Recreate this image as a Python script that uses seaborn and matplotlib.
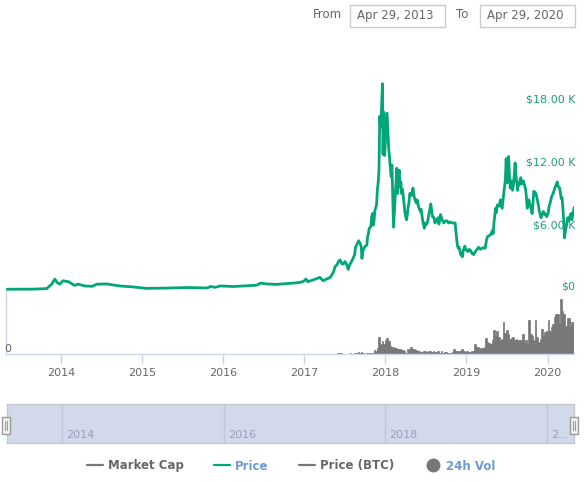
import numpy as np
import matplotlib
matplotlib.use("Agg")
import matplotlib.pyplot as plt
from matplotlib.lines import Line2D
from matplotlib.patches import Rectangle
from matplotlib.transforms import offset_copy, ScaledTranslation
import seaborn as sns

year_a = [2013.33,2013.65,2013.82,2013.88,2013.92,2013.95,2013.98,2014.02,2014.09,2014.16,2014.21,2014.29,2014.38,2014.44,2014.56,2014.72,2014.87,2015.05,2015.30,2015.55,2015.80,2015.84,2015.90,2015.96,2016.12,2016.41,2016.46,2016.54,2016.66,2016.86,2016.95,2016.99,2017.02,2017.04,2017.15,2017.19,2017.23]
price_a = [.12,.13,.18,.6,1.08,.75,.6,.92,.83,.49,.6,.43,.4,.6,.62,.43,.35,.2,.23,.28,.24,.38,.3,.43,.38,.5,.7,.62,.58,.7,.78,.87,1.09,.83,1.12,1.25,.93]
year_b = [2017.32,2017.34,2017.36,2017.38,2017.40,2017.42,2017.44,2017.46,2017.48,2017.50,2017.52,2017.54,2017.55,2017.57,2017.60,2017.62,2017.63,2017.65,2017.67,2017.69,2017.70,2017.71,2017.72,2017.73,2017.75,2017.77,2017.78,2017.79,2017.80,2017.82,2017.83,2017.84,2017.85,2017.86,2017.87,2017.89,2017.90,2017.91,2017.92,2017.925,2017.93,2017.94,2017.95,2017.963,2017.97,2017.98,2017.99,2018.02,2018.04,2018.06,2018.07,2018.08,2018.10]
price_b = [1.25,1.5,1.78,2.3,2.4,2.75,2.9,2.55,2.5,2.75,2.5,2.0,2.3,2.58,3.05,3.4,4.1,4.4,4.72,4.4,4.2,3.05,3.7,3.9,4.2,4.3,5.1,5.4,5.9,6.05,7.0,7.3,6.2,6.7,7.6,8.1,9.5,10.2,11.4,14,16.5,15.5,17,19.6,12.9,16.9,12.8,16.8,13.5,11.7,10.8,11.9,6.0]
year_c = [2018.14,2018.15,2018.16,2018.17,2018.18,2018.19,2018.20,2018.21,2018.22,2018.23,2018.24,2018.25,2018.26,2018.27,2018.28,2018.29,2018.30,2018.32,2018.34,2018.35,2018.36,2018.38,2018.39,2018.41,2018.43,2018.44,2018.46,2018.48,2018.49,2018.50,2018.52,2018.54,2018.56,2018.57,2018.58,2018.60,2018.61,2018.63,2018.65,2018.66,2018.68,2018.70,2018.72,2018.74,2018.76,2018.78,2018.80,2018.82,2018.84,2018.86,2018.87,2018.88,2018.89,2018.90,2018.91,2018.92,2018.93,2018.95,2018.96,2018.98,2018.99]
price_c = [11.6,9.2,10.8,11.4,9.8,10.3,9.2,9.6,8.9,8.2,7.4,7.0,6.7,7.2,7.9,8.3,9.2,9.0,9.7,9.1,8.7,8.3,8.6,7.9,7.5,7.7,6.6,5.9,6.4,6.2,6.5,7.4,8.2,7.6,7.0,6.9,6.4,6.6,6.9,6.3,7.2,6.7,6.4,6.6,6.6,6.4,6.5,6.4,6.4,6.4,5.6,4.8,4.2,4.0,4.1,3.7,3.4,3.2,3.8,4.2,3.9]
year_d = [2019.00,2019.02,2019.03,2019.05,2019.07,2019.09,2019.11,2019.13,2019.15,2019.17,2019.19,2019.21,2019.23,2019.25,2019.26,2019.28,2019.30,2019.32,2019.33,2019.34,2019.36,2019.37,2019.38,2019.40,2019.42,2019.43,2019.44,2019.46,2019.48,2019.49,2019.50,2019.51,2019.52,2019.53,2019.54,2019.55,2019.57,2019.58,2019.59,2019.60,2019.61,2019.63,2019.64,2019.65,2019.67,2019.68,2019.70,2019.72,2019.73,2019.74,2019.75,2019.76,2019.77,2019.78,2019.79,2019.81,2019.82,2019.83,2019.85,2019.86,2019.88,2019.90,2019.91,2019.92,2019.93,2019.95,2019.96,2019.97,2019.99]
price_d = [3.8,3.7,3.9,3.8,3.5,3.4,3.7,3.9,4.1,3.9,4.0,4.05,4.0,4.9,5.1,5.2,5.3,5.7,5.4,6.5,7.8,7.4,8.1,8.0,8.6,8.0,7.8,9.2,10.5,12.5,10.2,11.0,12.7,11,9.7,10.4,9.5,10.1,11.0,12.1,11,9.5,10.2,10.0,10.7,10.1,10.4,9.9,9.6,8.8,7.8,8.2,8.6,8.2,8.0,7.3,8.2,9.4,9.3,9.1,8.4,7.5,7.2,6.9,7.2,7.5,7.2,7.3,7.0]
year_e = [2020.01,2020.02,2020.03,2020.05,2020.07,2020.09,2020.12,2020.13,2020.15,2020.17,2020.18,2020.20,2020.21,2020.22,2020.24,2020.25,2020.26,2020.28,2020.29,2020.30,2020.31,2020.33]
price_e = [7.4,8.0,8.2,8.9,9.2,9.7,10.3,9.9,9.7,8.7,8.8,6.7,5.0,5.6,6.4,6.9,6.6,7.1,7.3,6.7,7.1,7.9]
price_year = year_a + year_b + year_c + year_d + year_e
price_k = price_a + price_b + price_c + price_d + price_e

volume = [1,1,1,0,0,0,0,0,1,0,0,1,1,2,1,2,1,0,1,1,1,
          1,1,4,3,6,17,10,13,10,14,16,13,8,7,7,6,6,5,5,4,4,3,1,5,4,7,5,5,4,3,3,2,2,3,3,2,3,3,2,3,2,2,3,1,3,1,2,2,1,1,1,2,5,3,3,3,3,5,3,2,3,
          2,2,3,3,10,7,7,5,6,6,7,16,12,11,10,14,24,18,23,17,13,15,32,21,24,20,15,16,17,14,15,14,14,14,20,11,14,10,34,20,18,14,34,17,12,15,25,18,22,23,34,23,27,30,37,40,40,30,55,43,40,28,36,36,28,32,32]

year_ticks = [2014,2015,2016,2017,2018,2019,2020]
nav_ticks = [2014,2016,2018,2020]
nav_labels = ["2014","2016","2018","2\u2026"]
price_ticks = [6,12,18]
price_labels = ["$6.00 K","$12.00 K","$18.00 K"]
legend_names = ["Market Cap","Price","Price (BTC)","24h Vol"]
date_from = "Apr 29, 2013"
date_to = "Apr 29, 2020"

GREEN = "#03a678"; TEAL = "#1d9c7c"; GREY = "#777777"; TXT = "#666666"; AXC = "#ccd6eb"; BLUE = "#6a9bd4"

sns.set_theme(style="white")
plt.rcParams["font.family"] = ["DejaVu Sans"]
W, H = 584, 482
fig = plt.figure(figsize=(W/100, H/100), dpi=100, facecolor="white")
def axpx(x0, y0, x1, y1, **kw):
    return fig.add_axes([x0/W, 1-y1/H, (x1-x0)/W, (y1-y0)/H], **kw)
XLIM = (2013.317, 2020.327)

# volume panel
vol = axpx(6, 282, 574, 354)
vol_x = np.linspace(2017.41, 2020.325, len(volume))
sns.barplot(x=vol_x, y=volume, native_scale=True, color=GREY, saturation=1, width=1, errorbar=None, ax=vol,
            edgecolor=GREY, linewidth=0.5)
vol.set_xlim(XLIM); vol.set_ylim(0, 72)
vol.set_xticks(year_ticks); vol.set_xticklabels([str(y) for y in year_ticks], fontsize=8, color=TXT)
vol.tick_params(axis="x", length=7, width=1, color=AXC, pad=3, bottom=True)
vol.set_xlabel(""); vol.set_ylabel("")
for s in ("top","right"): vol.spines[s].set_visible(False)
for s in ("left","bottom"): vol.spines[s].set_color(AXC); vol.spines[s].set_linewidth(1)
vol.spines["left"].set_bounds(0, 63)
vol.yaxis.tick_right()
vol.set_yticks([68.5]); vol.set_yticklabels(["$0"], fontsize=8, color=TEAL, ha="right")
vol.tick_params(axis="y", length=0, pad=1)
vol.patch.set_alpha(0)
vol.text(0.0, 0, "0", transform=offset_copy(vol.get_yaxis_transform(), fig=fig, x=-1, y=0, units="points"), fontsize=8, color=TXT, ha="left", va="bottom")

# price panel
ax = axpx(6, 50, 574, 290.5)
ax.patch.set_alpha(0)
sns.lineplot(x=price_year, y=price_k, estimator=None, sort=False, color=GREEN, linewidth=2.0, ax=ax)
ax.set_xlim(XLIM); ax.set_ylim(0, 22.8)
ax.set_xticks([])
ax.yaxis.tick_right()
ax.set_yticks(price_ticks); ax.set_yticklabels(price_labels, fontsize=8, color=TEAL, ha="right", va="center")
ax.tick_params(axis="y", length=0, pad=1)
ax.set_xlabel(""); ax.set_ylabel("")
for s in ax.spines.values(): s.set_visible(False)
nudge = ScaledTranslation(0, 1.5/100, fig.dpi_scale_trans)
for t in ax.get_yticklabels():
    t.set_transform(t.get_transform() + nudge)
ax.set_axisbelow(True)

# navigator
nav = axpx(6.5, 404, 573.5, 443)
nav.set_facecolor("#d2d9eb")
nav.set_xlim(XLIM); nav.set_ylim(0, 1); nav.set_yticks([])
nav.set_xticks(nav_ticks); nav.set_xticklabels([])
nav.grid(axis="x", color="#bfc6d8", linewidth=1)
nav.tick_params(axis="x", length=0)
for s in nav.spines.values(): s.set_color("#c8c8c8"); s.set_linewidth(1)
tr = offset_copy(nav.get_xaxis_transform(), fig=fig, x=3, y=0, units="points")
for t, l in zip(nav_ticks, nav_labels):
    nav.text(t, 0.08, l, transform=tr, fontsize=8, color="#9a9fb5", ha="left", va="bottom")
for x0 in (2, 570):
    fig.add_artist(Rectangle((x0/W, 1-434/H), 8/W, 17/H, transform=fig.transFigure, fc="#f4f4f4", ec="#999999", lw=1))
    for dx in (3, 5):
        fig.add_artist(Line2D([(x0+dx)/W]*2, [1-430/H, 1-421/H], transform=fig.transFigure, color="#999999", lw=0.8))

# date boxes
fig.text(313/W, 1-15/H, "From", fontsize=8.5, color=TXT, ha="left", va="center")
fig.text(456/W, 1-15/H, "To", fontsize=8.5, color=TXT, ha="left", va="center")
for x0, x1, s in ((350, 444.5, date_from), (480, 574.5, date_to)):
    fig.add_artist(Rectangle((x0/W, 1-26.5/H), (x1-x0)/W, 21.5/H, transform=fig.transFigure, fc="white", ec="#cccccc", lw=1))
    fig.text((x0+7)/W, 1-15/H, s, fontsize=8.5, color=TXT, ha="left", va="center")

# legend
handles = [Line2D([], [], color=GREY, lw=1.6),
           Line2D([], [], color=GREEN, lw=1.6),
           Line2D([], [], color=GREY, lw=1.6),
           Line2D([], [], color=GREY, lw=0, marker="o", markersize=9)]
leg = fig.legend(handles, legend_names, ncol=4, loc="center", bbox_to_anchor=(291/W, 1-466/H), frameon=False,
                 prop={"size": 8.5, "weight": "bold"}, handlelength=1.35, handletextpad=0.45, columnspacing=2.55,
                 labelcolor=[TXT, BLUE, TXT, BLUE])
fig.savefig("out.png", dpi=100)
